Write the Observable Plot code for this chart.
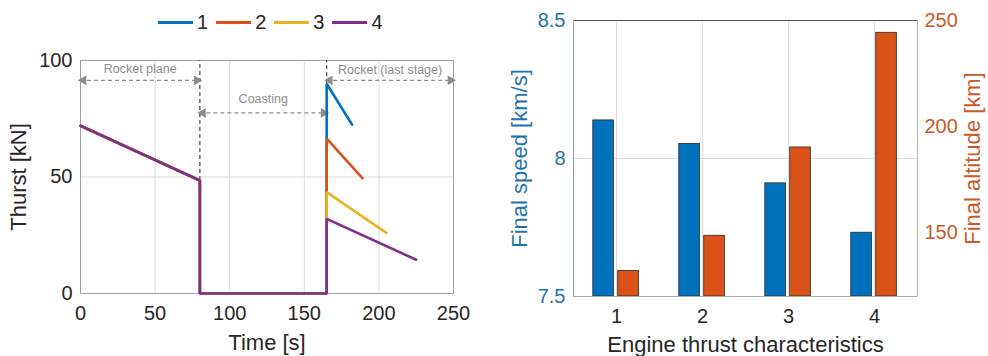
<!DOCTYPE html>
<html>
<head>
<meta charset="utf-8">
<script src="https://cdn.jsdelivr.net/npm/d3@7"></script>
<script src="https://cdn.jsdelivr.net/npm/@observablehq/plot@0.6"></script>
<style>
  html, body { margin: 0; padding: 0; background: #fff; }
  #wrap { position: relative; width: 988px; height: 356px; display: flex; font-family: "Liberation Sans", Arial, sans-serif; }
  #legend { position: absolute; left: 158px; top: 11px; display: flex; align-items: center; font-size: 20px; color: #262626; line-height: 22px; }
  .item { display: flex; align-items: center; margin-right: 8px; }
  .sw { width: 35px; height: 3px; margin-right: 4px; }
</style>
</head>
<body>
<div id="wrap"><div id="left"></div><div id="right"></div><div id="legend"></div></div>
<script>
// ---------- Left chart data ----------
const engines = ["1", "2", "3", "4"];
const engineColors = ["#0072BD", "#D95319", "#EDB120", "#7E2F8E"];
const planeTime = [0, 80];
const planeThrust = [72, 48.5];
const coastEndTime = 165;
const stageStartThrust = [90, 66.5, 43.5, 32];
const stageEndTime = [182, 189, 205, 225];
const stageEndThrust = [72.5, 49.5, 26, 14.5];
const timeTicks = [0, 50, 100, 150, 200, 250];
const thrustTicks = [0, 50, 100];

const phaseNames = ["Rocket plane", "Coasting", "Rocket (last stage)"];
const phaseStart = [0, 80, 165];
const phaseEnd = [80, 165, 250];
const phaseArrowY = [91.5, 77.5, 91.5];
const phaseLabelY = [96.3, 83.3, 96.1];

// ---------- Right chart data ----------
const configs = [1, 2, 3, 4];
const finalSpeed = [8.138, 8.053, 7.91, 7.731];
const finalAltitude = [132, 148.6, 190.2, 244.2];
const speedTicks = [7.5, 8, 8.5];
const altitudeTicks = [150, 200, 250];
const speedDomain = [7.5, 8.5];
const altitudeDomain = [120, 250];

const FONT = "'Liberation Sans', Arial, sans-serif";

// Build thrust profiles
const rows = [];
engines.forEach((e, i) => {
  const pts = [
    [planeTime[0], planeThrust[0]],
    [planeTime[1], planeThrust[1]],
    [planeTime[1], 0],
    [coastEndTime, 0],
    [coastEndTime, stageStartThrust[i]],
    [stageEndTime[i], stageEndThrust[i]]
  ];
  pts.forEach(([t, f]) => rows.push({engine: e, t, f}));
});

const phases = phaseNames.map((name, i) => ({
  name, x1: phaseStart[i], x2: phaseEnd[i], y: phaseArrowY[i], ly: phaseLabelY[i],
  mid: (phaseStart[i] + phaseEnd[i]) / 2
}));
const dividers = [
  {x: planeTime[1], y1: planeThrust[1], y2: 100},
  {x: coastEndTime, y1: d3.max(stageStartThrust), y2: 100}
];

const GRAY = "#8c8c8c";

const left = Plot.plot({
  width: 494, height: 356,
  marginLeft: 80, marginRight: 41, marginTop: 60, marginBottom: 63,
  style: {fontFamily: FONT, fontSize: "20px", color: "#262626", background: "#fff"},
  x: {domain: [0, 250]},
  y: {domain: [0, 100]},
  color: {domain: engines, range: engineColors},
  marks: [
    Plot.gridX([50, 100, 150, 200], {stroke: "#dcdcdc", strokeOpacity: 1}),
    Plot.gridY([50], {stroke: "#dcdcdc", strokeOpacity: 1}),
    Plot.frame({stroke: "#a0a0a0"}),
    Plot.axisX({ticks: timeTicks, tickSize: 0, tickPadding: 12, fontSize: 20, label: null}),
    Plot.axisX({ticks: [], tickSize: 0, fontSize: 22,
      label: "Time [s]", labelAnchor: "center", labelOffset: 56, labelArrow: "none"}),
    Plot.axisY({ticks: thrustTicks, tickSize: 0, tickPadding: 8, fontSize: 20, label: null}),
    Plot.axisY({ticks: [], tickSize: 0, fontSize: 22,
      label: "Thurst [kN]", labelAnchor: "center", labelOffset: 70, labelArrow: "none"}),
    Plot.ruleX(dividers, {x: "x", y1: "y1", y2: "y2", stroke: "#444", strokeDasharray: "4,3", strokeWidth: 1.2}),
    Plot.ruleY(phases, {y: "y", x1: "x1", x2: "x2", stroke: GRAY, strokeDasharray: "4,3", strokeWidth: 1.3}),
    Plot.dot(phases, {x: "x1", y: "y", dx: 3, symbol: "triangle", r: 3.6, fill: GRAY, rotate: -90}),
    Plot.dot(phases, {x: "x2", y: "y", dx: -3, symbol: "triangle", r: 3.6, fill: GRAY, rotate: 90}),
    Plot.text(phases, {x: "mid", y: "ly", text: "name", fill: GRAY, fontSize: 12.5}),
    Plot.line(rows, {x: "t", y: "f", z: "engine", stroke: "engine", strokeWidth: 2.6, strokeLinejoin: "miter"})
  ]
});
document.getElementById("left").appendChild(left);

// Legend
const lg = document.getElementById("legend");
engines.forEach((e, i) => {
  const it = document.createElement("div");
  it.className = "item";
  it.innerHTML = `<div class="sw" style="background:${engineColors[i]}"></div><span>${e}</span>`;
  lg.appendChild(it);
});

// ---------- Right chart ----------
const toSpeed = a => speedDomain[0] + (a - altitudeDomain[0]) / (altitudeDomain[1] - altitudeDomain[0]) * (speedDomain[1] - speedDomain[0]);
const fromSpeed = s => altitudeDomain[0] + (s - speedDomain[0]) / (speedDomain[1] - speedDomain[0]) * (altitudeDomain[1] - altitudeDomain[0]);

const bars = configs.map((c, i) => ({c, speed: finalSpeed[i], altS: toSpeed(finalAltitude[i])}));

const BLUE_TXT = "#1f74ad";
const ORANGE_TXT = "#c95a27";

const right = Plot.plot({
  width: 494, height: 356,
  marginLeft: 79, marginRight: 71, marginTop: 20, marginBottom: 60,
  style: {fontFamily: FONT, fontSize: "20px", color: "#262626", background: "#fff"},
  x: {domain: [0.5, 4.5]},
  y: {domain: speedDomain},
  marks: [
    Plot.gridX(configs, {stroke: "#dcdcdc", strokeOpacity: 1}),
    Plot.gridY([8], {stroke: "#dcdcdc", strokeOpacity: 1}),
    Plot.rect(bars, {x1: d => d.c - 0.27, x2: d => d.c - 0.03, y1: speedDomain[0], y2: "speed",
      fill: "#0072BD", stroke: "#2a2a2a", strokeWidth: 0.8}),
    Plot.rect(bars, {x1: d => d.c + 0.02, x2: d => d.c + 0.26, y1: speedDomain[0], y2: "altS",
      fill: "#D95319", stroke: "#2a2a2a", strokeWidth: 0.8}),
    Plot.ruleY([speedDomain[1]], {stroke: "#555"}),
    Plot.ruleY([speedDomain[0]], {stroke: "#a8a8a8"}),
    Plot.ruleX([0.5], {stroke: "#8aa3b5"}),
    Plot.ruleX([4.5], {stroke: "#c9b6a4"}),
    Plot.axisX({ticks: configs, tickSize: 0, tickPadding: 12, fontSize: 20, tickFormat: d => String(d), label: null}),
    Plot.axisX({ticks: [], tickSize: 0, fontSize: 22,
      label: "Engine thrust characteristics", labelAnchor: "center", labelOffset: 55, labelArrow: "none"}),
    Plot.axisY({ticks: speedTicks, tickSize: 0, tickPadding: 8, fontSize: 20, color: BLUE_TXT,
      tickFormat: d => String(d), label: null}),
    Plot.axisY({ticks: [], tickSize: 0, fontSize: 22, color: BLUE_TXT,
      label: "Final speed [km/s]", labelAnchor: "center", labelOffset: 62, labelArrow: "none"}),
    Plot.axisY({anchor: "right", ticks: altitudeTicks.map(toSpeed), tickSize: 0, tickPadding: 7, fontSize: 20, color: ORANGE_TXT,
      tickFormat: d => String(Math.round(fromSpeed(d))), label: null}),
    Plot.axisY({anchor: "right", ticks: [], tickSize: 0, fontSize: 22, color: ORANGE_TXT,
      label: "Final altitude [km]", labelAnchor: "center", labelOffset: 62, labelArrow: "none"})
  ]
});
document.getElementById("right").appendChild(right);
</script>
</body>
</html>
